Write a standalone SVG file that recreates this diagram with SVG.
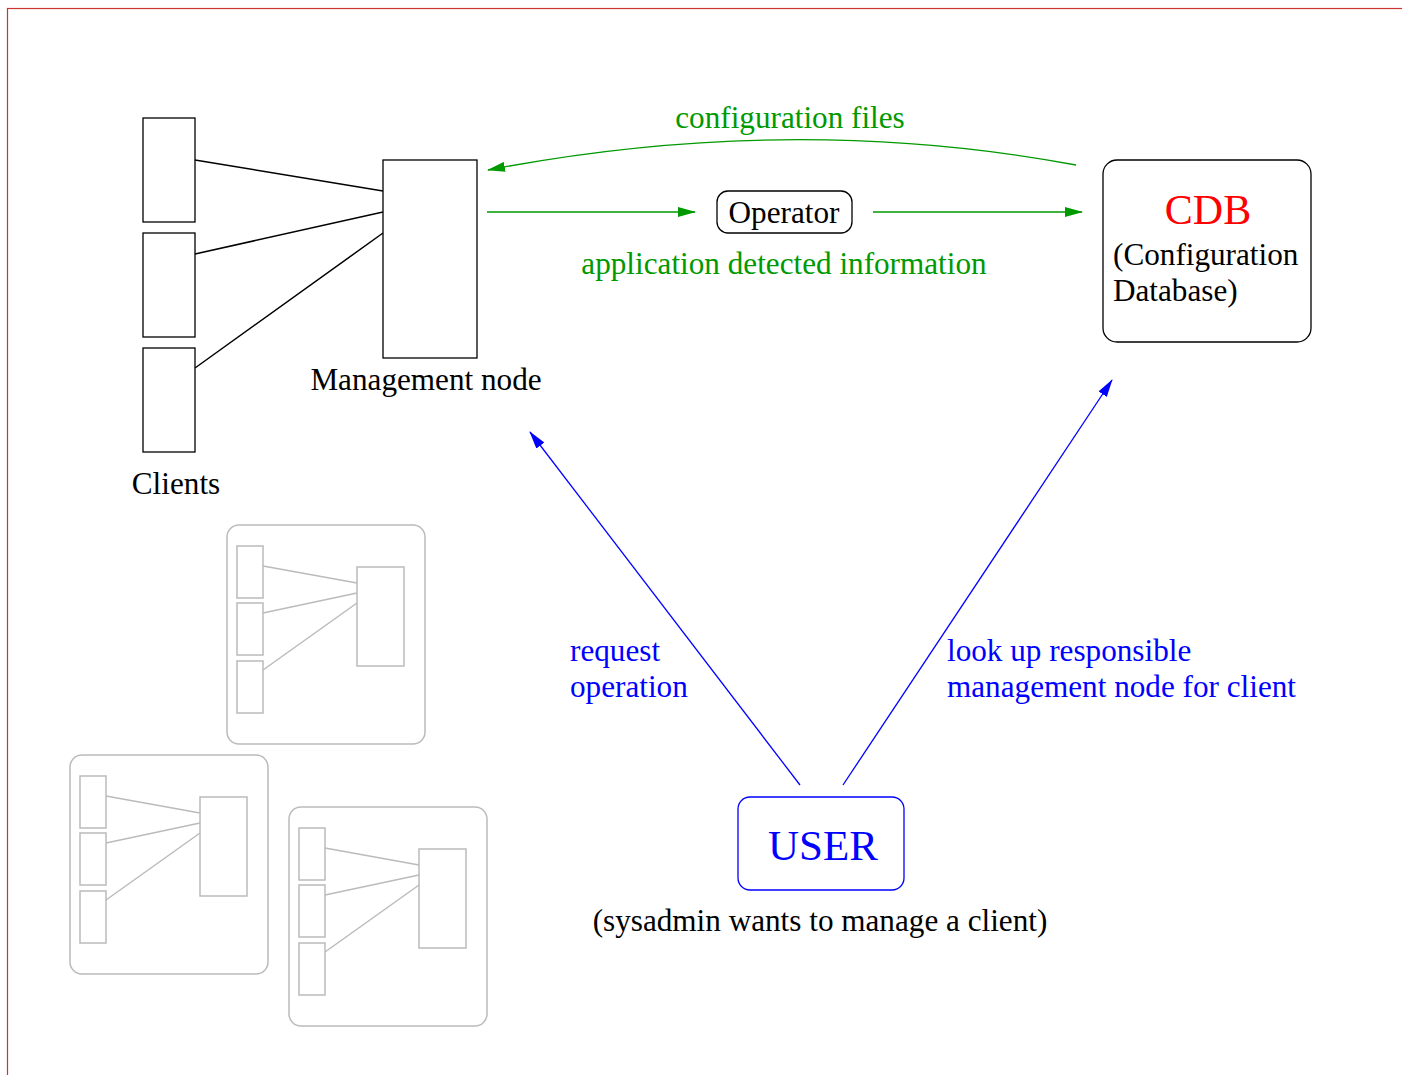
<svg xmlns="http://www.w3.org/2000/svg" width="1402" height="1075" viewBox="0 0 1402 1075">
<style>
.t{font-family:"Liberation Serif","Times New Roman",serif;font-size:31.2px;fill:#000}
.g{fill:#009900}
.b{fill:#0000ff}
.box{fill:none;stroke:#000;stroke-width:1.3}
.gr{fill:none;stroke:#bbbbbb;stroke-width:1.5}
.gl{stroke:#009900;stroke-width:1.3;fill:none}
.bl{stroke:#0000ff;stroke-width:1.3;fill:none}
</style>
<defs>
<marker id="ag" markerWidth="18" markerHeight="10" refX="17" refY="5" orient="auto" markerUnits="userSpaceOnUse"><path d="M0,0 L18,5 L0,10 Z" fill="#009900"/></marker>
<marker id="ab" markerWidth="18" markerHeight="10" refX="17" refY="5" orient="auto" markerUnits="userSpaceOnUse"><path d="M0,0 L18,5 L0,10 Z" fill="#0000ff"/></marker>
<g id="mini">
<rect class="gr" x="0" y="0" width="198" height="219" rx="12"/>
<rect class="gr" x="10" y="21" width="26" height="52"/>
<rect class="gr" x="10" y="78" width="26" height="52"/>
<rect class="gr" x="10" y="136" width="26" height="52"/>
<rect class="gr" x="130" y="42" width="47" height="99"/>
<path class="gr" d="M36,41 L130,58 M36,88 L130,68 M36,145 L130,78"/>
</g>
</defs>
<rect x="7.5" y="8.5" width="1420" height="1100" fill="none" stroke="#cc3333" stroke-width="1.2"/>
<g id="clients">
<rect class="box" x="143" y="118" width="52" height="104"/>
<rect class="box" x="143" y="233" width="52" height="104"/>
<rect class="box" x="143" y="348" width="52" height="104"/>
<text class="t" x="176" y="494" text-anchor="middle">Clients</text>
</g>
<g id="management-node">
<rect class="box" x="383" y="160" width="94" height="198"/>
<text class="t" x="426" y="390" text-anchor="middle">Management node</text>
</g>
<g id="operator">
<rect class="box" x="717" y="191" width="135" height="42" rx="11"/>
<text class="t" x="784" y="223" text-anchor="middle">Operator</text>
</g>
<g id="cdb">
<rect class="box" x="1103" y="160" width="208" height="182" rx="14"/>
<text class="t" x="1208" y="224" text-anchor="middle" style="font-size:42px;fill:#ff0000">CDB</text>
<text class="t" x="1113" y="265">(Configuration</text>
<text class="t" x="1113" y="301">Database)</text>
</g>
<g id="user">
<rect x="738" y="797" width="166" height="93" rx="12" fill="none" stroke="#0000ff" stroke-width="1.3"/>
<text class="t b" x="823" y="860" text-anchor="middle" style="font-size:43px">USER</text>
<text class="t" x="820" y="931" text-anchor="middle">(sysadmin wants to manage a client)</text>
</g>
<g id="mini-diagrams">
<use href="#mini" x="227" y="525"/>
<use href="#mini" x="70" y="755"/>
<use href="#mini" x="289" y="807"/>
</g>
<g id="connectors">
<path d="M195,160 L383,191 M195,254 L383,212 M195,368 L383,233" stroke="#000" stroke-width="1.5" fill="none"/>
<path class="gl" d="M1076,165 Q790,112 488,170" marker-end="url(#ag)"/>
<path class="gl" d="M487,212 L695,212" marker-end="url(#ag)"/>
<path class="gl" d="M873,212 L1082,212" marker-end="url(#ag)"/>
<path class="bl" d="M800,785 L530,432" marker-end="url(#ab)"/>
<path class="bl" d="M843,785 L1112,380" marker-end="url(#ab)"/>
</g>
<g id="labels">
<text class="t g" x="790" y="128" text-anchor="middle">configuration files</text>
<text class="t g" x="784" y="274" text-anchor="middle">application detected information</text>
<text class="t b" x="570" y="661">request</text>
<text class="t b" x="570" y="697">operation</text>
<text class="t b" x="947" y="661">look up responsible</text>
<text class="t b" x="947" y="697">management node for client</text>
</g>
</svg>
